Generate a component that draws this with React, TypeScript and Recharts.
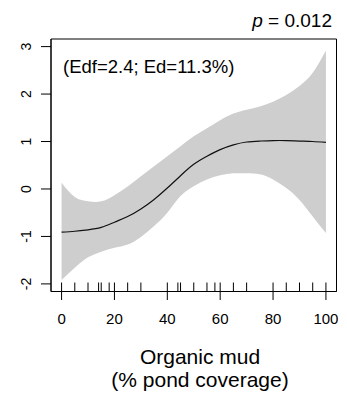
import React from "react";
import { ComposedChart, Area, Line, Scatter, XAxis, YAxis, ReferenceArea } from "recharts";

const xValues = [0, 5, 10, 15, 20, 25, 30, 35, 40, 45, 50, 55, 60, 65, 70, 75, 80, 85, 90, 95, 100];
const fitValues = [-0.91, -0.89, -0.86, -0.81, -0.7, -0.58, -0.42, -0.22, 0.02, 0.28, 0.52, 0.69, 0.83, 0.93, 0.99, 1.01, 1.02, 1.02, 1.01, 1.0, 0.98];
const upperValues = [0.13, -0.17, -0.26, -0.26, -0.13, 0.05, 0.27, 0.48, 0.69, 0.9, 1.11, 1.28, 1.45, 1.59, 1.67, 1.74, 1.84, 1.98, 2.17, 2.45, 2.92];
const lowerValues = [-1.92, -1.66, -1.44, -1.32, -1.24, -1.17, -1.01, -0.78, -0.5, -0.15, 0.06, 0.2, 0.29, 0.33, 0.33, 0.31, 0.2, 0.02, -0.23, -0.58, -0.93];
const rugValues = [0, 5, 10, 14, 15, 18, 20, 25, 30, 40, 44, 45, 50, 55, 58, 60, 65, 70, 80, 85, 90, 95, 100];
const xTicks = [0, 20, 40, 60, 80, 100];
const yTicks = [-2, -1, 0, 1, 2, 3];
const xDomain: [number, number] = [-4, 104];
const yDomain: [number, number] = [-2.16, 3.16];

const data = xValues.map((x, i) => ({
  x,
  fit: fitValues[i],
  band: [lowerValues[i], upperValues[i]],
}));
const rugData = rugValues.map((x) => ({ x, y: yDomain[0] }));

const FONT = "'Liberation Sans', Arial, sans-serif";
const Y_LABEL_X = 31.5;
const X_LABEL_BASELINE = 324;

const YTick = (props: any) => {
  const { y, payload } = props;
  const bx = Y_LABEL_X;
  return (
    <text
      x={bx}
      y={y}
      transform={`rotate(-90 ${bx} ${y})`}
      textAnchor="middle"
      fontSize={14}
      fontFamily={FONT}
      fill="#000"
    >
      {payload.value}
    </text>
  );
};

const XTick = (props: any) => {
  const { x, payload } = props;
  return (
    <text x={x} y={X_LABEL_BASELINE} textAnchor="middle" fontSize={15} fontFamily={FONT} fill="#000">
      {payload.value}
    </text>
  );
};

const RugMark = (props: any) => {
  const { cx, cy } = props;
  return <line x1={cx} y1={cy} x2={cx} y2={cy - 9} stroke="#000" strokeWidth={1} />;
};

export default function App() {
  return (
    <div style={{ position: "absolute", left: 0, top: 0, width: 347, height: 399, background: "#fff" }}>
      <ComposedChart
        width={347}
        height={399}
        data={data}
        margin={{ top: 39, right: 10.5, left: 0, bottom: 0 }}
      >
        <XAxis
          dataKey="x"
          type="number"
          domain={xDomain}
          ticks={xTicks}
          allowDataOverflow
          height={107.5}
          tickSize={8.5}
          tickMargin={0}
          tick={<XTick />}
          axisLine={{ stroke: "#000" }}
          tickLine={{ stroke: "#000" }}
        />
        <YAxis
          type="number"
          domain={yDomain}
          ticks={yTicks}
          allowDataOverflow
          width={51}
          tickSize={10}
          tickMargin={0}
          tick={<YTick />}
          axisLine={{ stroke: "#000" }}
          tickLine={{ stroke: "#000" }}
        />
        <Area
          dataKey="band"
          type="natural"
          fill="#cecece"
          fillOpacity={1}
          stroke="none"
          isAnimationActive={false}
        />
        <Line
          dataKey="fit"
          type="natural"
          stroke="#111"
          strokeWidth={1.2}
          dot={false}
          isAnimationActive={false}
        />
        <Scatter data={rugData} dataKey="y" shape={<RugMark />} isAnimationActive={false} />
        <ReferenceArea
          x1={xDomain[0]}
          x2={xDomain[1]}
          y1={yDomain[0]}
          y2={yDomain[1]}
          fill="none"
          stroke="#000"
          strokeWidth={1}
          ifOverflow="visible"
        />
      </ComposedChart>
      <svg
        width={347}
        height={399}
        style={{ position: "absolute", left: 0, top: 0, pointerEvents: "none" }}
      >
        <text x={332} y={27} textAnchor="end" fontSize={19} fontFamily={FONT} fill="#000">
          <tspan fontStyle="italic">p</tspan> = 0.012
        </text>
        <text x={63} y={73} fontSize={18.5} fontFamily={FONT} fill="#000">
          (Edf=2.4; Ed=11.3%)
        </text>
        <text x={200} y={363.5} textAnchor="middle" fontSize={21} fontFamily={FONT} fill="#000">
          Organic mud
        </text>
        <text x={200} y={387} textAnchor="middle" fontSize={21} fontFamily={FONT} fill="#000">
          (% pond coverage)
        </text>
      </svg>
    </div>
  );
}
